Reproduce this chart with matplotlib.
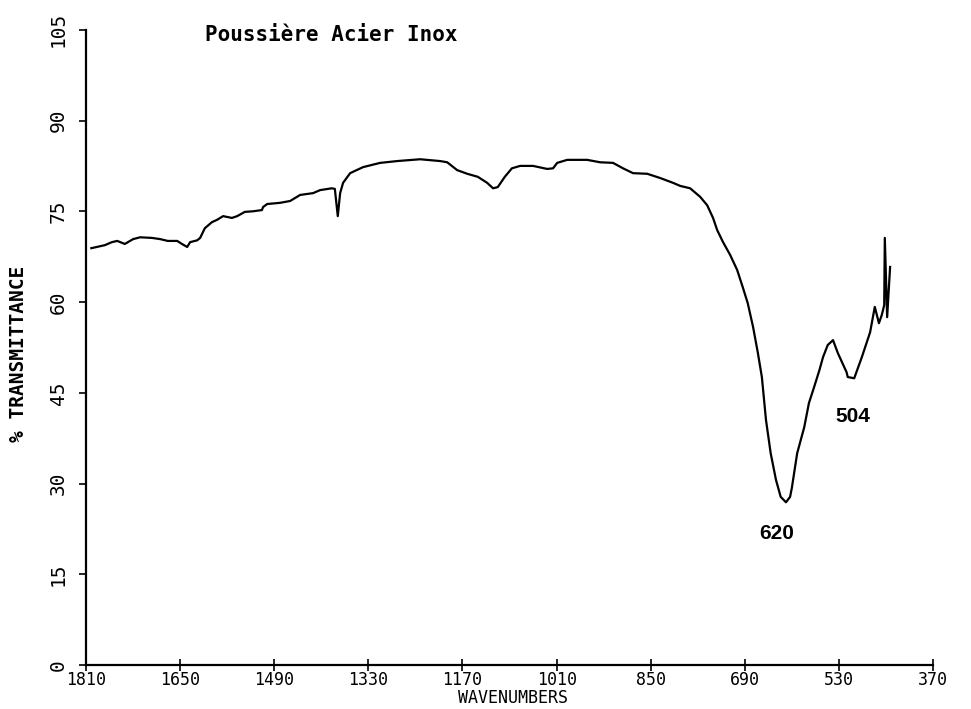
import numpy as np
import matplotlib.pyplot as plt

# IR spectrum of stainless steel dust, wavenumber (cm-1) vs % transmittance
wavenumber = [1801, 1778, 1766, 1757, 1744, 1730, 1718, 1698, 1684, 1671,
              1655, 1647, 1638, 1633, 1621, 1616, 1608, 1596, 1587, 1577,
              1562, 1553, 1540, 1526, 1511, 1509, 1502, 1480, 1463, 1446,
              1424, 1412, 1392, 1387, 1382, 1378, 1373, 1361, 1339, 1310,
              1281, 1242, 1208, 1196, 1179, 1162, 1144, 1128, 1118, 1110,
              1098, 1086, 1072, 1050, 1026, 1016, 1009, 992, 958, 936,
              914, 897, 880, 856, 834, 812, 800, 783, 766, 754,
              744, 737, 727, 715, 703, 693, 685, 676, 668, 661,
              654, 646, 637, 629, 620, 613, 610, 601, 589, 581,
              572, 563, 557, 549, 540, 532, 517, 515, 504, 491,
              477, 469, 462, 457, 453, 452, 448, 443]
transmittance = [68.9, 69.4, 69.9, 70.1, 69.6, 70.4, 70.7, 70.6, 70.4, 70.1,
                 70.1, 69.6, 69.1, 69.9, 70.2, 70.6, 72.2, 73.2, 73.6, 74.2,
                 73.9, 74.2, 74.9, 75.0, 75.2, 75.7, 76.2, 76.4, 76.7, 77.7,
                 78.0, 78.5, 78.8, 78.7, 74.2, 78.0, 79.7, 81.3, 82.3, 83.0,
                 83.3, 83.6, 83.3, 83.1, 81.8, 81.2, 80.7, 79.7, 78.8, 79.0,
                 80.7, 82.1, 82.5, 82.5, 82.0, 82.1, 83.0, 83.5, 83.5, 83.1,
                 83.0, 82.1, 81.3, 81.2, 80.5, 79.7, 79.2, 78.8, 77.4, 76.0,
                 73.9, 71.9, 69.9, 67.8, 65.3, 62.3, 59.8, 55.9, 51.7, 47.6,
                 40.5, 35.0, 30.6, 27.8, 26.9, 27.8, 29.3, 35.0, 39.3, 43.3,
                 46.0, 48.8, 50.9, 52.9, 53.7, 51.6, 48.4, 47.6, 47.4, 50.9,
                 55.0, 59.2, 56.5, 57.9, 59.5, 70.6, 57.5, 65.8]

x_ticks = [1810, 1650, 1490, 1330, 1170, 1010, 850, 690, 530, 370]
y_ticks = [0, 15, 30, 45, 60, 75, 90, 105]

# peak labels: (text, wavenumber, transmittance)
peaks = [("620", 635, 21.8), ("504", 506, 41.0)]

mono = "DejaVu Sans Mono"

fig = plt.figure(figsize=(9.71, 7.09), dpi=100)
ax = fig.add_axes([0.0886, 0.062, 0.8723, 0.896])

ax.plot(wavenumber, transmittance, color="black", lw=1.6)

ax.set_xlim(1810, 370)
ax.set_ylim(0, 105)
ax.set_xticks(x_ticks)
ax.set_xticklabels([str(v) for v in x_ticks], family=mono, fontsize=12)
ax.set_yticks(y_ticks)
ax.set_yticklabels([str(v) for v in y_ticks], family=mono, fontsize=14,
                   rotation=90, va="center")

for s in ["top", "right"]:
    ax.spines[s].set_visible(False)
for s in ["left", "bottom"]:
    ax.spines[s].set_linewidth(1.6)

ax.tick_params(axis="x", direction="inout", length=8, width=1.2, pad=0)
ax.tick_params(axis="y", direction="out", length=5, width=1.2, pad=8)

ax.set_ylabel("% TRANSMITTANCE", family=mono, fontsize=14,
              fontweight="bold", labelpad=10)
ax.yaxis.set_label_coords(-0.068, 0.49)

for txt, wx, ty in peaks:
    ax.text(wx, ty, txt, ha="center", va="center",
            family="Liberation Sans", fontsize=15, fontweight="bold")

fig.text(513 / 971, 1 - 698 / 709, "WAVENUMBERS", family=mono,
         fontsize=12, ha="center", va="center")
fig.text(205 / 971, 1 - 35 / 709, "Poussière Acier Inox", family=mono,
         fontsize=15, fontweight="bold", ha="left", va="center")

fig.savefig("out.png", dpi=100)
